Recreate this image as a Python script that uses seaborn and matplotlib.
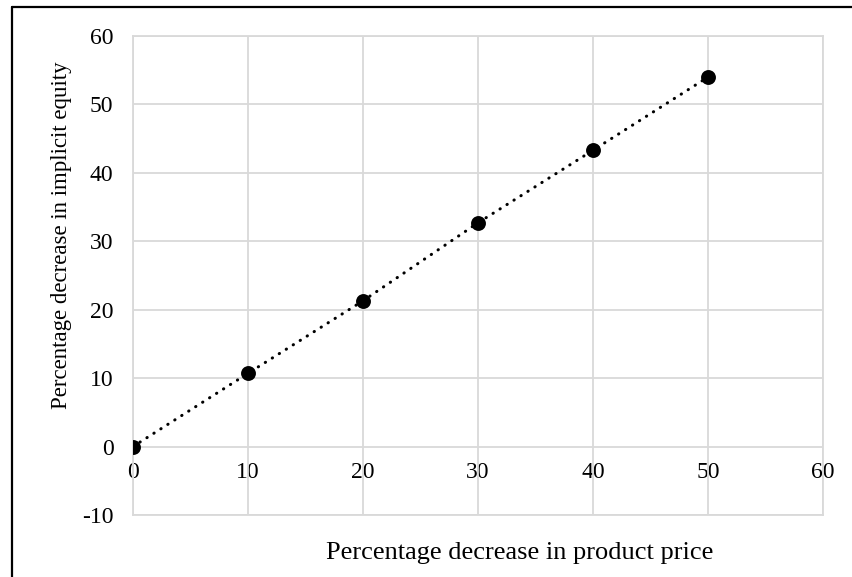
import matplotlib
matplotlib.use("Agg")
import matplotlib.pyplot as plt
from matplotlib.lines import Line2D
import seaborn as sns
import pandas as pd

# values
price_drop = [0, 10, 20, 30, 40, 50]
equity_drop = [0, 10.7, 21.3, 32.7, 43.3, 54.0]
x_ticks = [0, 10, 20, 30, 40, 50, 60]
y_ticks = [-10, 0, 10, 20, 30, 40, 50, 60]

df = pd.DataFrame({"price": price_drop, "equity": equity_drop})

sns.set_style("white")
plt.rcParams["font.family"] = ["Liberation Serif", "DejaVu Serif"]
plt.rcParams["axes.unicode_minus"] = False
for k in ["text.color", "axes.labelcolor", "xtick.color", "ytick.color"]:
    plt.rcParams[k] = "black"

grid_col = "#d9d9d9"
fig = plt.figure(figsize=(8.52, 5.77), dpi=100)
ax = fig.add_axes([0.1561, 0.1075, 0.966 - 0.1561, 0.9376 - 0.1075])

# dotted connecting line, then the markers
sns.lineplot(data=df, x="price", y="equity", ax=ax, color="black", lw=2.2,
             linestyle=(0, (0.1, 2.6)), dash_capstyle="round", zorder=3)
sns.scatterplot(data=df, x="price", y="equity", ax=ax, color="black",
                s=115, edgecolor="black", linewidth=0, zorder=4)

ax.set_xlim(0, 60)
ax.set_ylim(-10, 60)
ax.set_xticks(x_ticks)
ax.set_yticks(y_ticks)
ax.grid(True, color=grid_col, lw=1.3)
ax.set_axisbelow(True)
for sp in ax.spines.values():
    sp.set_color(grid_col)
    sp.set_linewidth(1.3)

ax.tick_params(axis="y", length=0, pad=14, labelsize=17)
ax.tick_params(axis="x", length=0, labelbottom=False)
ax.set_xlabel("")
ax.set_ylabel("")

# x tick labels sit on the y=0 line, like Excel
sec = ax.secondary_xaxis(location=(0 - (-10)) / 70)
sec.set_xticks(x_ticks)
sec.tick_params(length=0, pad=11, labelsize=17)
sec.spines["bottom"].set_visible(False)

fig.text(520 / 852, 0.042, "Percentage decrease in product price", fontsize=19,
         ha="center", va="center")
fig.text(62 / 852, 1 - 235 / 577, "Percentage decrease in implicit equity",
         fontsize=16.5, rotation=90, ha="center", va="center")

# frame lines at left and top of the figure
fig.add_artist(Line2D([11.5 / 852, 11.5 / 852], [0, 1 - 6.5 / 577], color="black", lw=1.6))
fig.add_artist(Line2D([11.5 / 852, 1], [1 - 6.5 / 577, 1 - 6.5 / 577], color="black", lw=1.6))

fig.savefig("out.png", dpi=100)
